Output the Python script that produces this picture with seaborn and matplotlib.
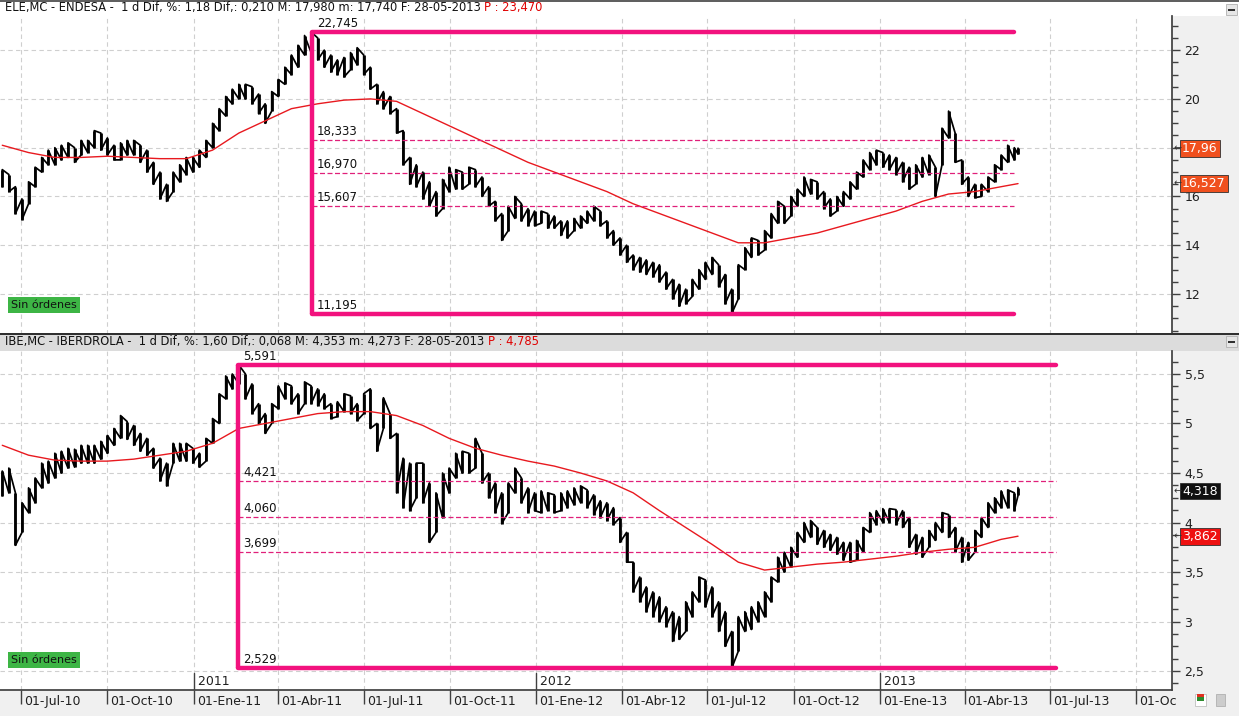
import numpy as np
import pandas as pd
import matplotlib
matplotlib.use("Agg")
import matplotlib.pyplot as plt
import seaborn as sns
from matplotlib.ticker import MultipleLocator, FuncFormatter
from matplotlib.patches import Rectangle
import matplotlib.transforms as mtrans

sns.set_theme(style="white")
plt.rcParams["font.family"] = ["DejaVu Sans"]

# ---------------- data ----------------
# weekly price ranges (high / low), last entry = 28-05-2013
px_dates = list(pd.date_range("2010-06-11", periods=155, freq="W-FRI")) + [pd.Timestamp("2013-05-28")]

ele_high = [17.1, 16.9, 16.4, 15.9, 16.6, 17.2, 17.6, 17.9, 18.0, 18.1, 18.2, 18.0, 18.3,
            18.3, 18.7, 18.6, 18.4, 18.1, 18.2, 18.3, 18.3, 18.1, 17.9, 17.4, 17.0, 16.5,
            17.0, 17.3, 17.6, 17.6, 17.9, 18.3, 19.0, 19.6, 20.1, 20.4, 20.6, 20.6, 20.5,
            20.2, 19.8, 20.3, 20.8, 21.3, 21.8, 22.2, 22.6, 22.745, 22.5, 22.0, 21.8, 21.6,
            21.7, 21.9, 22.1, 21.8, 21.3, 20.6, 20.3, 20.1, 19.6, 18.7, 17.6, 17.3, 17.0,
            16.6, 16.2, 16.7, 17.2, 17.1, 17.0, 17.2, 17.1, 16.8, 16.4, 15.8, 15.3, 15.6,
            16.0, 15.7, 15.5, 15.4, 15.4, 15.3, 15.2, 15.0, 15.0, 15.1, 15.2, 15.4, 15.6,
            15.4, 15.0, 14.6, 14.3, 14.0, 13.6, 13.5, 13.4, 13.3, 13.2, 12.9, 12.6, 12.4,
            12.2, 12.6, 13.0, 13.3, 13.5, 13.2, 12.8, 12.2, 13.2, 13.9, 14.3, 14.2, 14.6,
            15.3, 15.8, 15.6, 16.0, 16.3, 16.8, 16.7, 16.6, 16.2, 15.9, 16.0, 16.2, 16.6,
            17.0, 17.5, 17.8, 17.9, 17.8, 17.7, 17.6, 17.4, 17.2, 17.3, 17.6, 17.7, 17.2,
            18.8, 19.5, 18.6, 17.5, 16.8, 16.5, 16.5, 16.8, 17.3, 17.7, 18.1, 18.0, 17.98]
ele_low = [16.4, 16.2, 15.3, 15.05, 15.7, 16.4, 17.0, 17.3, 17.3, 17.5, 17.6, 17.4, 17.7,
           17.8, 18.0, 17.9, 17.7, 17.5, 17.5, 17.7, 17.7, 17.4, 17.0, 16.5, 15.9, 15.8,
           16.2, 16.6, 16.9, 17.0, 17.2, 17.6, 18.0, 18.7, 19.3, 19.8, 20.0, 20.0, 19.8,
           19.4, 19.0, 19.5, 20.1, 20.6, 21.0, 21.3, 21.8, 21.9, 21.6, 21.3, 21.1, 21.0,
           20.9, 21.2, 21.4, 21.0, 20.4, 19.8, 19.6, 19.4, 18.6, 17.3, 16.5, 16.4, 15.9,
           15.6, 15.2, 15.5, 16.2, 16.3, 16.3, 16.5, 16.4, 16.0, 15.6, 15.0, 14.2, 14.6,
           15.1, 15.0, 14.8, 14.8, 14.9, 14.7, 14.7, 14.4, 14.3, 14.6, 14.7, 14.9, 15.0,
           14.8, 14.3, 14.0, 13.6, 13.3, 13.0, 12.9, 12.8, 12.7, 12.5, 12.2, 11.8, 11.5,
           11.6, 11.9, 12.2, 12.6, 12.8, 12.3, 11.6, 11.195, 11.8, 13.0, 13.5, 13.6, 13.8,
           14.3, 14.9, 14.9, 15.2, 15.6, 16.0, 16.1, 15.9, 15.5, 15.2, 15.4, 15.6, 15.9,
           16.3, 16.8, 17.1, 17.3, 17.2, 17.1, 16.9, 16.6, 16.3, 16.5, 16.8, 16.9, 16.0,
           17.3, 18.4, 17.4, 16.5, 16.0, 15.95, 16.0, 16.2, 16.6, 17.1, 17.4, 17.5, 17.74]

ibe_high = [4.52, 4.55, 4.30, 4.20, 4.35, 4.45, 4.60, 4.62, 4.70, 4.72, 4.75, 4.74, 4.78,
            4.78, 4.78, 4.82, 4.88, 4.95, 5.08, 5.02, 4.98, 4.90, 4.85, 4.75, 4.65, 4.60,
            4.80, 4.80, 4.80, 4.75, 4.70, 4.85, 5.05, 5.30, 5.48, 5.50, 5.591, 5.50, 5.40,
            5.20, 5.10, 5.20, 5.38, 5.41, 5.38, 5.30, 5.42, 5.38, 5.35, 5.30, 5.20, 5.22,
            5.30, 5.28, 5.20, 5.30, 5.35, 5.00, 5.26, 5.10, 4.90, 4.65, 4.60, 4.60, 4.60,
            4.40, 4.30, 4.50, 4.55, 4.70, 4.72, 4.70, 4.85, 4.70, 4.50, 4.40, 4.30, 4.40,
            4.55, 4.45, 4.35, 4.30, 4.32, 4.30, 4.28, 4.30, 4.32, 4.35, 4.37, 4.33, 4.28,
            4.22, 4.20, 4.15, 4.05, 3.90, 3.60, 3.45, 3.35, 3.30, 3.25, 3.15, 3.10, 3.05,
            3.20, 3.30, 3.45, 3.42, 3.35, 3.20, 3.10, 2.90, 3.05, 3.10, 3.15, 3.20, 3.30,
            3.45, 3.65, 3.70, 3.75, 3.90, 4.00, 4.02, 3.95, 3.92, 3.88, 3.85, 3.80, 3.80,
            3.82, 3.95, 4.10, 4.12, 4.14, 4.14, 4.13, 4.12, 4.05, 3.88, 3.85, 3.92, 4.00,
            4.10, 4.08, 3.95, 3.85, 3.80, 3.92, 4.05, 4.20, 4.25, 4.32, 4.33, 4.30, 4.353]
ibe_low = [4.27, 4.30, 3.77, 3.90, 4.10, 4.20, 4.35, 4.40, 4.45, 4.50, 4.55, 4.56, 4.60,
           4.60, 4.60, 4.64, 4.70, 4.78, 4.85, 4.84, 4.78, 4.72, 4.68, 4.55, 4.42, 4.37,
           4.60, 4.62, 4.62, 4.60, 4.56, 4.62, 4.80, 5.00, 5.25, 5.35, 5.40, 5.25, 5.10,
           5.00, 4.90, 5.00, 5.15, 5.25, 5.20, 5.10, 5.20, 5.20, 5.18, 5.15, 5.05, 5.07,
           5.12, 5.10, 5.03, 5.10, 4.95, 4.72, 4.95, 4.85, 4.30, 4.15, 4.12, 4.25, 4.20,
           3.80, 3.90, 4.05, 4.30, 4.45, 4.50, 4.50, 4.55, 4.40, 4.25, 4.10, 3.99, 4.10,
           4.30, 4.20, 4.10, 4.12, 4.10, 4.12, 4.10, 4.12, 4.15, 4.18, 4.20, 4.15, 4.08,
           4.05, 4.02, 3.98, 3.80, 3.60, 3.30, 3.20, 3.10, 3.05, 3.00, 2.95, 2.80, 2.82,
           2.90, 3.05, 3.20, 3.15, 3.05, 2.90, 2.75, 2.529, 2.70, 2.90, 2.92, 3.00, 3.05,
           3.20, 3.40, 3.50, 3.55, 3.65, 3.80, 3.85, 3.78, 3.75, 3.72, 3.68, 3.62, 3.60,
           3.62, 3.70, 3.90, 3.98, 4.00, 4.00, 3.98, 3.95, 3.75, 3.68, 3.65, 3.75, 3.82,
           3.90, 3.85, 3.70, 3.60, 3.62, 3.70, 3.85, 3.95, 4.10, 4.15, 4.15, 4.12, 4.273]

# four-weekly samples of the red moving average
ma_dates = list(pd.date_range("2010-06-11", periods=39, freq="4W-FRI")) + [pd.Timestamp("2013-05-28")]
ele_ma = [18.1, 17.8, 17.6, 17.6, 17.65, 17.6, 17.55, 17.55, 17.9, 18.6, 19.1, 19.6, 19.8,
          19.95, 20.0, 19.9, 19.4, 18.9, 18.4, 17.9, 17.4, 17.0, 16.6, 16.2, 15.7, 15.3,
          14.9, 14.5, 14.1, 14.1, 14.3, 14.5, 14.8, 15.1, 15.4, 15.8, 16.1, 16.2, 16.4, 16.527]
ibe_ma = [4.78, 4.68, 4.63, 4.62, 4.62, 4.64, 4.68, 4.72, 4.8, 4.95, 5.0, 5.05, 5.1,
          5.12, 5.12, 5.08, 4.98, 4.85, 4.75, 4.68, 4.62, 4.57, 4.5, 4.42, 4.3, 4.12,
          3.95, 3.78, 3.6, 3.52, 3.55, 3.58, 3.6, 3.63, 3.66, 3.7, 3.73, 3.75, 3.83, 3.862]

# Fibonacci retracement boxes
ele_fib_start, ele_fib_end = pd.Timestamp("2011-05-07"), pd.Timestamp("2013-05-24")
ele_fib_levels = [22.745, 18.333, 16.970, 15.607, 11.195]
ibe_fib_start, ibe_fib_end = pd.Timestamp("2011-02-17"), pd.Timestamp("2013-07-07")
ibe_fib_levels = [5.591, 4.421, 4.060, 3.699, 2.529]

ele_last, ele_ma_last = 17.96, 16.527
ibe_last, ibe_ma_last = 4.318, 3.862

tick_dates = pd.date_range("2010-07-01", "2013-10-01", freq="QS")
month_es = {1: "Ene", 4: "Abr", 7: "Jul", 10: "Oct"}
tick_labels = [f"01-{month_es[d.month]}-{d.strftime('%y')}" for d in tick_dates]
tick_labels[-1] = "01-Oc"
year_marks = [pd.Timestamp("2011-01-01"), pd.Timestamp("2012-01-01"), pd.Timestamp("2013-01-01")]

ele_header = "ELE,MC - ENDESA -  1 d Dif, %: 1,18 Dif,: 0,210 M: 17,980 m: 17,740 F: 28-05-2013 "
ele_header_p = "P : 23,470"
ibe_header = "IBE,MC - IBERDROLA -  1 d Dif, %: 1,60 Dif,: 0,068 M: 4,353 m: 4,273 F: 28-05-2013 "
ibe_header_p = "P : 4,785"

df_ele = pd.DataFrame({"date": px_dates, "high": ele_high, "low": ele_low})
df_ibe = pd.DataFrame({"date": px_dates, "high": ibe_high, "low": ibe_low})
ma_ele = pd.DataFrame({"date": ma_dates, "ma": ele_ma})
ma_ibe = pd.DataFrame({"date": ma_dates, "ma": ibe_ma})

# ---------------- layout ----------------
W, H = 1239, 716
fig = plt.figure(figsize=(W / 100, H / 100), dpi=100)
fig.patch.set_facecolor("#f0f0f0")


def frac(x0, y0, x1, y1):
    return [x0 / W, 1 - y1 / H, (x1 - x0) / W, (y1 - y0) / H]


fig.add_artist(Rectangle((0, 1 - 16 / H), 1, 16 / H, transform=fig.transFigure,
                         facecolor="white", edgecolor="none", zorder=0))
fig.add_artist(Rectangle((0, 1 - 2 / H), 1, 2 / H, transform=fig.transFigure,
                         facecolor="#606060", edgecolor="none", zorder=1))
fig.add_artist(Rectangle((0, 1 - 351 / H), 1, 17 / H, transform=fig.transFigure,
                         facecolor="#dcdcdc", edgecolor="none", zorder=0))
fig.add_artist(Rectangle((0, 1 - 335 / H), 1, 2 / H, transform=fig.transFigure,
                         facecolor="#303030", edgecolor="none", zorder=1))

xmin, xmax = pd.Timestamp("2010-06-08 14:00"), pd.Timestamp("2013-11-08")
PINK = "#f2127e"


def make_fmt(hidden):
    def f(v, p):
        if any(abs(v - h) < 1e-9 for h in hidden):
            return ""
        return (f"{v:g}").replace(".", ",")
    return FuncFormatter(f)


def setup_axis(ax, ylim, major, minor, hidden):
    ax.set_facecolor("white")
    ax.set_xlim(xmin, xmax)
    ax.set_ylim(*ylim)
    for s in ["left", "top"]:
        ax.spines[s].set_visible(False)
    ax.spines["right"].set_color("#404040")
    ax.spines["bottom"].set_color("#404040")
    ax.yaxis.tick_right()
    ax.yaxis.set_major_locator(MultipleLocator(major))
    ax.yaxis.set_minor_locator(MultipleLocator(minor))
    ax.yaxis.set_major_formatter(make_fmt(hidden))
    ax.tick_params(axis="y", which="major", length=6, width=1, color="#404040",
                   labelsize=9, pad=3, labelcolor="#202020", right=True)
    ax.tick_params(axis="y", which="minor", length=4, width=1, color="#404040", right=True)
    ax.set_xticks(tick_dates)
    for d in tick_dates:
        ax.axvline(d, color="#cfcfcf", lw=0.8, ls=(0, (4, 3)), zorder=0)
    for v in np.arange(np.ceil(ylim[0] / major) * major, ylim[1], major):
        ax.axhline(v, color="#cfcfcf", lw=0.8, ls=(0, (4, 3)), zorder=0)


def draw_price(ax, df, ma):
    # bar path: each week's range is walked low->high on up moves, high->low on down moves
    mid = (df["high"] + df["low"]) / 2
    xs, ys = [], []
    prev = mid.iloc[0]
    for d, m, hi, lo in zip(df["date"], mid, df["high"], df["low"]):
        xs += [d, d]
        ys += [lo, hi] if m >= prev else [hi, lo]
        prev = m
    ax.plot(xs, ys, color="black", lw=1.25, zorder=3)
    ax.vlines(df["date"], df["low"], df["high"], color="black", lw=2.0, zorder=3)
    sns.lineplot(data=ma, x="date", y="ma", ax=ax, color="#e8191f", lw=1.0, zorder=4)
    ax.set_xlabel("")
    ax.set_ylabel("")


def draw_fib(ax, start, end, levels):
    top, bottom = levels[0], levels[-1]
    ax.plot([start, start], [bottom, top], color=PINK, lw=3.2, solid_capstyle="butt", zorder=5)
    ax.plot([start, end], [top, top], color=PINK, lw=3.2, zorder=5)
    ax.plot([start, end], [bottom, bottom], color=PINK, lw=3.2, zorder=5)
    for lv in levels[1:-1]:
        ax.plot([start, end], [lv, lv], color="#e0207a", lw=0.9, ls=(0, (4, 2)), zorder=4)
    off = mtrans.ScaledTranslation(5 / 100, 2 / 100, fig.dpi_scale_trans)
    for lv in levels:
        ax.text(start, lv, f"{lv:.3f}".replace(".", ","), fontsize=8.5, color="#111111",
                ha="left", va="bottom", transform=ax.transData + off, zorder=6)


def value_box(ax, val, face, txt_color="white"):
    ax.text(1 + 10 / 1172, val, f"{val}".replace(".", ","), transform=ax.get_yaxis_transform(),
            fontsize=9, color=txt_color, va="center", ha="left", clip_on=False, zorder=10,
            bbox=dict(boxstyle="square,pad=0.15", facecolor=face, edgecolor="#303030", lw=0.6))
    ax.text(1 + 2 / 1172, val, "←", transform=ax.get_yaxis_transform(), fontsize=7,
            color="#333333", va="center", ha="left", clip_on=False, zorder=10)


# ---------- top panel : ENDESA ----------
ax1 = fig.add_axes(frac(0, 16, 1172, 334))
setup_axis(ax1, (10.36, 23.40), 2, 0.5, hidden=[18])
ax1.tick_params(axis="x", which="both", length=0, labelbottom=False)
ax1.spines["bottom"].set_visible(False)
draw_price(ax1, df_ele, ma_ele)
draw_fib(ax1, ele_fib_start, ele_fib_end, ele_fib_levels)
value_box(ax1, ele_last, "#f0501e")
value_box(ax1, ele_ma_last, "#f0501e")

# ---------- bottom panel : IBERDROLA ----------
ax2 = fig.add_axes(frac(0, 351, 1172, 690))
setup_axis(ax2, (2.309, 5.732), 0.5, 0.125, hidden=[])
draw_price(ax2, df_ibe, ma_ibe)
draw_fib(ax2, ibe_fib_start, ibe_fib_end, ibe_fib_levels)
value_box(ax2, ibe_last, "#101010")
value_box(ax2, ibe_ma_last, "#ee1111")
ax2.set_xticks(tick_dates)
ax2.set_xticklabels(tick_labels)
ax2.tick_params(axis="x", which="major", length=10, width=1, color="#404040",
                labelsize=9, pad=-9, labelcolor="#202020", bottom=True, direction="out")
offx = mtrans.ScaledTranslation(3 / 100, -4 / 100, fig.dpi_scale_trans)
for lbl in ax2.get_xticklabels():
    lbl.set_horizontalalignment("left")
    lbl.set_transform(lbl.get_transform() + offx)
for ym in year_marks:
    ax2.plot([ym, ym], [0, 0.05], transform=ax2.get_xaxis_transform(), color="#404040", lw=1, zorder=6)
    ax2.text(ym, 0.006, " " + ym.strftime("%Y"), transform=ax2.get_xaxis_transform(),
             fontsize=9, ha="left", va="bottom", color="#202020", zorder=6)

# headers
r = fig.canvas.get_renderer()
for hdr, yy, ptxt in [(ele_header, 8, ele_header_p), (ibe_header, 342, ibe_header_p)]:
    t = fig.text(5 / W, 1 - yy / H, hdr, fontsize=8.3, va="center", ha="left", color="#111111")
    bb = t.get_window_extent(renderer=r)
    fig.text(bb.x1 / W, 1 - yy / H, ptxt, fontsize=8.3, va="center", ha="left", color="#e00000")

# "Sin órdenes" boxes
for yy in (305, 660):
    fig.text(11 / W, 1 - yy / H, "Sin órdenes", fontsize=8, va="center", ha="left", color="#111111",
             bbox=dict(boxstyle="square,pad=0.25", facecolor="#3db545", edgecolor="none"))

# small window buttons / icons
for yy in (4, 336):
    fig.add_artist(Rectangle((1226 / W, 1 - (yy + 11) / H), 11 / W, 11 / H, transform=fig.transFigure,
                             facecolor="#e6e6e6", edgecolor="#b0b0b0", lw=0.6, zorder=3))
    fig.add_artist(Rectangle((1228 / W, 1 - (yy + 7) / H), 7 / W, 2 / H, transform=fig.transFigure,
                             facecolor="#303030", edgecolor="none", zorder=4))
fig.add_artist(Rectangle((1195 / W, 1 - 706 / H), 11 / W, 12 / H, transform=fig.transFigure,
                         facecolor="white", edgecolor="#c0c0c0", lw=0.6, zorder=3))
fig.add_artist(Rectangle((1197 / W, 1 - 701 / H), 7 / W, 4 / H, transform=fig.transFigure,
                         facecolor="#2e8b2e", edgecolor="none", zorder=4))
fig.add_artist(Rectangle((1197 / W, 1 - 697 / H), 7 / W, 3 / H, transform=fig.transFigure,
                         facecolor="#e03020", edgecolor="none", zorder=4))
fig.add_artist(Rectangle((1216 / W, 1 - 706 / H), 9 / W, 12 / H, transform=fig.transFigure,
                         facecolor="#cccccc", edgecolor="#b0b0b0", lw=0.6, zorder=3))

fig.savefig("out.png", dpi=100, facecolor=fig.get_facecolor())
